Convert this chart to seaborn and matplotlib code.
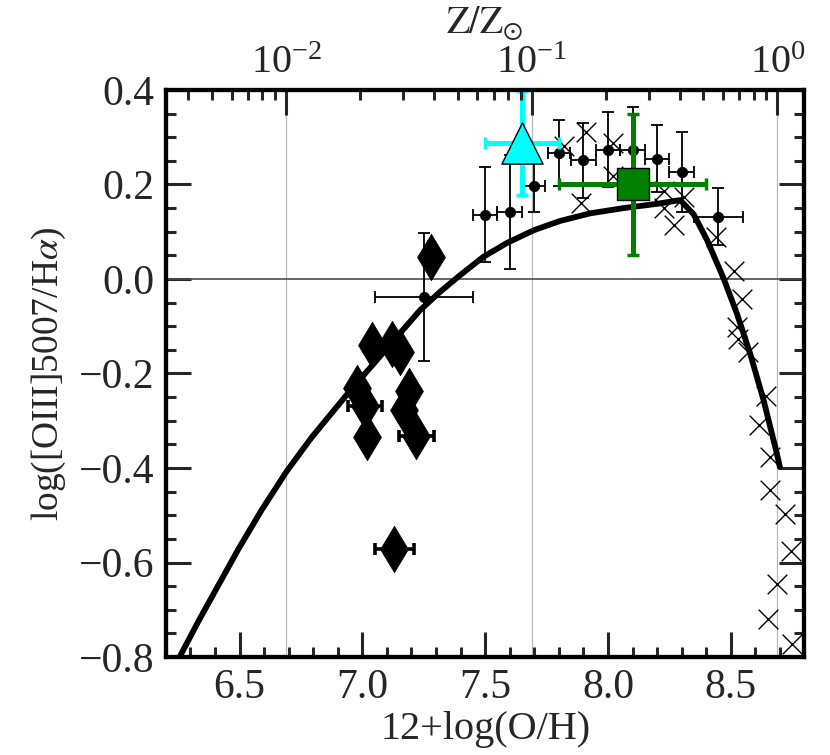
import numpy as np
import matplotlib
matplotlib.use('Agg')
import matplotlib.pyplot as plt
from matplotlib.ticker import MultipleLocator, LogLocator
import seaborn as sns

ZSUN = 8.69  # solar 12+log(O/H)

# model track
model_oh = [6.258, 6.332, 6.414, 6.495, 6.59, 6.692, 6.794, 6.889, 6.943, 7.235,
            7.317, 7.398, 7.493, 7.588, 7.697, 7.806, 7.928, 8.063, 8.199, 8.294,
            8.349, 8.403, 8.471, 8.525, 8.579, 8.634, 8.688, 8.70]
model_ratio = [-0.798, -0.725, -0.648, -0.572, -0.489, -0.407, -0.335, -0.275,
               -0.241, -0.066, -0.027, 0.008, 0.047, 0.076, 0.103, 0.123, 0.139,
               0.150, 0.159, 0.167, 0.137, 0.083, 0.001, -0.073, -0.158, -0.257,
               -0.370, -0.398]

# individual galaxies (crosses)
cross_oh = [7.82, 7.91, 7.89, 8.02, 8.02, 8.23, 8.31, 8.23, 8.27, 8.44, 8.515,
            8.545, 8.525, 8.53, 8.57, 8.645, 8.615, 8.66, 8.66, 8.72, 8.745,
            8.69, 8.65, 8.75]
cross_ratio = [0.281, 0.311, 0.161, 0.288, 0.219, 0.187, 0.173, 0.150, 0.115,
               0.088, 0.017, -0.042, -0.101, -0.126, -0.154, -0.248, -0.310,
               -0.377, -0.447, -0.497, -0.575, -0.646, -0.720, -0.773]

# binned sample (black circles)
bin_oh = [7.50, 7.60, 7.70, 7.80, 7.90, 8.00, 8.10, 8.20, 8.30, 8.45, 7.25]
bin_ratio = [0.136, 0.142, 0.196, 0.267, 0.251, 0.274, 0.274, 0.255, 0.227,
             0.132, -0.038]
bin_xerr = [0.05, 0.05, 0.045, 0.045, 0.05, 0.05, 0.05, 0.05, 0.05, 0.10, 0.20]
bin_yerr = [0.10, 0.12, 0.055, 0.07, 0.08, 0.08, 0.09, 0.07, 0.085, 0.06, 0.135]

# extremely metal-poor objects (diamonds)
dia_oh = [7.28, 7.04, 7.12, 7.155, 6.98, 7.01, 7.02, 7.19, 7.17, 7.22, 7.13]
dia_ratio = [0.047, -0.140, -0.137, -0.154, -0.230, -0.269, -0.335, -0.236,
             -0.278, -0.333, -0.572]
dia_xerr = [0, 0, 0, 0, 0, 0.07, 0, 0, 0, 0.07, 0.08]

# stacks
green_oh, green_ratio, green_xerr, green_yerr = [8.10], [0.20], [0.30], [0.15]
cyan_oh, cyan_ratio, cyan_xerr, cyan_yerr = [7.65], [0.288], [0.15], [0.11]

sns.set_theme(style='ticks')
plt.rcParams['font.family'] = ['Liberation Serif', 'DejaVu Serif']
plt.rcParams['mathtext.fontset'] = 'stix'
plt.rcParams['axes.unicode_minus'] = True

fig = plt.figure(figsize=(8.3, 7.55), dpi=100)
ax = fig.add_axes([0.1998, 0.1298, 0.7694, 0.751])
ax.set_xlim(6.2, 8.8)
ax.set_ylim(-0.8, 0.4)

# top axis in solar units
ax2 = ax.twiny()
ax2.set_xscale('log')
ax2.set_xlim(10 ** (6.2 - ZSUN), 10 ** (8.8 - ZSUN))
ax2.xaxis.set_major_locator(LogLocator(base=10))
ax2.xaxis.set_minor_locator(LogLocator(base=10, subs=np.arange(2, 10)))

for t in ax2.get_xticks():
    xv = np.log10(t) + ZSUN
    if 6.2 < xv < 8.8:
        ax.axvline(xv, color='0.72', lw=0.9, zorder=0)
ax.axhline(0, color='0.3', lw=1.2, zorder=1)

sns.scatterplot(x=cross_oh, y=cross_ratio, marker='x', s=200, color='black',
                linewidth=1.0, ax=ax, zorder=2)

sns.lineplot(x=model_oh, y=model_ratio, sort=False, estimator=None, color='black',
             lw=4.2, ax=ax, zorder=3)

ax.errorbar(bin_oh, bin_ratio, xerr=bin_xerr, yerr=bin_yerr, fmt='none',
            ecolor='black', elinewidth=1.3, capsize=4.5, capthick=1.3, zorder=4)
sns.scatterplot(x=bin_oh, y=bin_ratio, marker='o', s=55, color='black',
                edgecolor='black', ax=ax, zorder=4)

dia_xerr_arr = np.array(dia_xerr)
has_err = dia_xerr_arr > 0
ax.errorbar(np.array(dia_oh)[has_err], np.array(dia_ratio)[has_err],
            xerr=dia_xerr_arr[has_err], fmt='none', ecolor='black',
            elinewidth=2.6, capsize=4.5, capthick=2.6, zorder=4)
sns.scatterplot(x=dia_oh, y=dia_ratio, marker='d', s=560, color='black',
                edgecolor='black', linewidth=0.5, ax=ax, zorder=4)

ax.errorbar(green_oh, green_ratio, xerr=green_xerr, yerr=green_yerr, fmt='none',
            ecolor='green', elinewidth=3.6, capsize=4.5, capthick=2.5, zorder=5)
sns.scatterplot(x=green_oh, y=green_ratio, marker='s', s=520, color='green',
                edgecolor='black', linewidth=1.0, ax=ax, zorder=5)

ax.errorbar(cyan_oh, cyan_ratio, xerr=cyan_xerr, yerr=cyan_yerr, fmt='none',
            ecolor='cyan', elinewidth=3.6, capsize=4.5, capthick=2.5, zorder=6)
sns.scatterplot(x=cyan_oh, y=cyan_ratio, marker='^', s=880, color='cyan',
                edgecolor='black', linewidth=1.0, ax=ax, zorder=6)

ax.xaxis.set_major_locator(MultipleLocator(0.5))
ax.xaxis.set_minor_locator(MultipleLocator(0.1))
ax.yaxis.set_major_locator(MultipleLocator(0.2))
ax.yaxis.set_minor_locator(MultipleLocator(0.05))
ax.xaxis.set_major_formatter(lambda v, p: f'{v:.1f}')
ax.yaxis.set_major_formatter(lambda v, p: f'{v:.1f}'.replace('-', '\u2212'))

ax.tick_params(which='both', direction='in', top=False, right=True,
               width=2.2, labelsize=30, pad=8)
ax.tick_params(which='major', length=18)
ax.tick_params(which='minor', length=7)
ax2.tick_params(which='both', direction='in', width=2.2, labelsize=29, pad=6)
ax2.tick_params(which='major', length=18)
ax2.tick_params(which='minor', length=7)

for a in (ax, ax2):
    for sp in a.spines.values():
        sp.set_linewidth(3)
        sp.set_visible(True)
        sp.set_color('black')

ax.set_xlabel('12+log(O/H)', fontsize=29, labelpad=3)
ax.set_ylabel(r'log([OIII]5007/H$\alpha$)', fontsize=27, labelpad=8)
ax2.set_xlabel(r'$\mathrm{Z/Z_{\odot}}$', fontsize=27, labelpad=8)

fig.savefig('out.png', dpi=100)
